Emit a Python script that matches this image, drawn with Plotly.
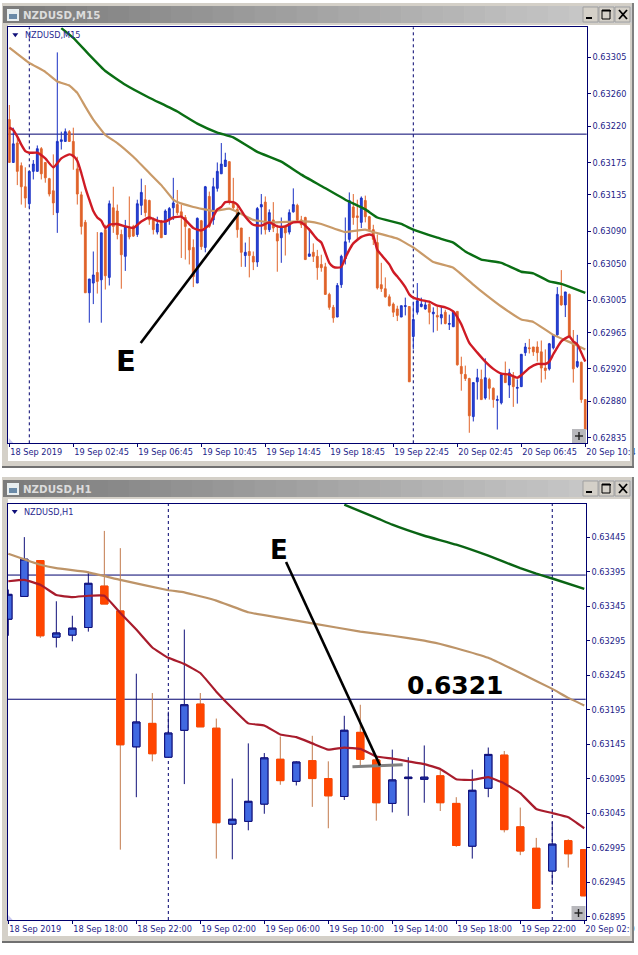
import plotly.graph_objects as go

# ---------- data: prices in points (1 point = 0.00001) ----------
m15_open = [63228,63175,63199,63171,63145,63124,63164,63164,63192,63175,
63155,63140,63113,63201,63201,63213,63201,63167,63135,63101,
63014,63026,63039,63030,63092,63033,63119,63115,63086,63059,
63094,63096,63086,63122,63129,63128,63104,63089,63101,63086,
63104,63119,63123,63114,63107,63093,63070,63026,63103,63070,
63133,63104,63143,63161,63170,63176,63126,63117,63094,63060,
63065,63059,63052,63120,63126,63092,63104,63087,63082,63096,
63089,63114,63122,63104,63107,63059,63064,63059,63049,63046,
63012,62996,62984,63024,63056,63080,63120,63109,63101,63128,
63108,63092,63076,63024,63019,63009,63000,62994,62984,62997,
62997,62960,62990,62997,62994,63000,62988,62986,62983,62990,
62975,62972,62991,62923,62913,62908,62861,62904,62907,62884,
62907,62896,62881,62878,62913,62900,62910,62896,62898,62940,
62946,62947,62947,62941,62921,62920,62946,62962,63010,62999,
63012,62954,62923,62928,62882]
m15_high = [63246,63218,63207,63175,63169,63164,63178,63196,63194,63175,
63156,63185,63311,63213,63217,63215,63218,63182,63139,63104,
63031,63065,63089,63088,63098,63128,63145,63123,63092,63104,
63133,63098,63129,63155,63147,63129,63107,63108,63104,63117,
63120,63156,63141,63123,63110,63094,63080,63107,63104,63146,
63139,63156,63175,63199,63187,63176,63156,63123,63094,63076,
63083,63065,63120,63136,63133,63117,63126,63098,63107,63098,
63117,63143,63124,63109,63108,63094,63075,63067,63061,63051,
63014,62999,63026,63061,63107,63138,63136,63129,63133,63134,
63109,63098,63086,63051,63033,63012,63002,62998,62998,63008,
62997,63003,63026,63008,63004,63003,62996,62997,62997,62993,
62987,62990,62991,62935,62924,62909,62903,62920,62919,62933,
62909,62897,62887,62915,62929,62920,62916,62907,62938,62952,
62957,62947,62954,62955,62944,62952,62963,63021,63042,63015,
63013,62968,62962,62929,62882]
m15_low = [63175,63175,63147,63123,63119,63119,63154,63164,63154,63150,
63133,63110,63088,63191,63201,63201,63166,63123,63086,63014,
62977,63000,63013,62977,63018,63023,63088,63080,63019,63041,
63080,63083,63083,63110,63108,63098,63086,63086,63082,63086,
63098,63104,63110,63057,63055,63049,63021,63026,63067,63064,
63094,63098,63139,63161,63170,63123,63117,63082,63046,63046,
63033,63042,63046,63086,63086,63089,63089,63040,63051,63060,
63086,63113,63102,63094,63055,63059,63052,63030,63040,63012,
62993,62977,62984,63020,63049,63076,63098,63080,63094,63101,
63089,63073,63018,63015,63008,62997,62984,62979,62984,62986,
62904,62944,62987,62996,62993,62975,62965,62967,62975,62975,
62968,62972,62924,62893,62905,62841,62855,62882,62882,62882,
62882,62872,62845,62876,62903,62884,62873,62877,62898,62936,
62939,62936,62929,62903,62907,62918,62944,62961,62998,62984,
62960,62903,62921,62878,62845]
m15_close = [63175,63198,63164,63145,63131,63164,63173,63192,63161,63156,
63136,63125,63201,63203,63213,63201,63182,63136,63096,63014,
63031,63036,63028,63088,63035,63124,63096,63086,63061,63096,
63083,63084,63124,63138,63113,63104,63092,63099,63082,63115,
63118,63125,63113,63108,63096,63067,63034,63106,63071,63145,
63096,63145,63164,63173,63178,63126,63119,63092,63064,63064,
63060,63052,63118,63123,63092,63113,63094,63078,63096,63088,
63113,63123,63104,63098,63055,63062,63059,63045,63045,63012,
62996,62983,63023,63059,63077,63128,63107,63107,63131,63108,
63092,63080,63020,63019,63009,62998,62990,62986,62998,62998,
62904,62981,63004,63000,62999,62990,62990,62984,62987,62976,
62976,62990,62925,62914,62908,62862,62903,62909,62882,62909,
62896,62882,62882,62913,62903,62915,62898,62897,62938,62947,
62945,62941,62940,62921,62918,62951,62962,63012,62999,63015,
62960,62920,62929,62882,62845]

m15_red_bar = [0,1,2,3,4,5,7,9,11,13,15,16,17,18,19,20,21,22,23,24,25,27,29,31,33,35,37,39,41,43,44,46,48,50,51,52,53,54,56,57,59,61,63,65,67,69,71,73,75,77,
78,80,81,82,83,84,85,86,88,90,91,92,93,94,95,96,97,98,99,100,101,103,105,107,109,111,112,113,115,117,119,121,123,125,127,128,130,132,134,135,136,138,140,141,142,143,144]
m15_red = [63218,63215,63207,63197,63189,63187,63187,63180,63169,63180,63185,63183,63177,63162,63144,63129,63115,63107,63103,63094,63098,63099,63096,63094,63102,63107,63103,63102,63107,63108,63104,63094,63091,63098,63108,63117,63120,63126,63126,63123,63108,63098,63097,63101,63096,63096,63101,63101,63092,63080,
63076,63051,63046,63045,63046,63057,63067,63075,63083,63086,63084,63067,63061,63055,63049,63040,63034,63028,63021,63012,63008,63005,63003,62998,62996,62991,62984,62975,62952,62940,62929,62920,62914,62913,62909,62912,62921,62926,62926,62929,62938,62954,62960,62954,62950,62940,62929]
m15_tan_bar = [0,5,9,12,15,17,19,21,24,27,31,35,38,41,42,46,51,55,57,61,65,71,75,78,84,89,91,97,101,106,111,116,119,123,128,131,136,141,144]
m15_tan = [63317,63298,63287,63275,63270,63261,63244,63228,63209,63199,63182,63162,63147,63129,63126,63120,63115,63118,63114,63104,63101,63102,63102,63099,63089,63092,63089,63081,63070,63052,63045,63024,63012,62997,62981,62978,62962,62951,62944]
m15_green_bar = [13,16,20,24,29,35,42,47,52,56,62,68,73,78,84,89,92,98,101,107,111,114,118,123,128,131,135,138,144]
m15_green = [63341,63329,63308,63288,63271,63255,63238,63223,63212,63206,63188,63176,63160,63146,63129,63117,63107,63099,63092,63082,63076,63065,63055,63051,63040,63038,63028,63025,63014]

h1_open = [63326,63359,63411,63300,63303,63314,63374,63338,63141,63175,63126,63165,63203,63168,63029,63033,63058,63123,63091,63121,63095,63069,63162,63122,63059,63095,63094,63099,63059,62997,63081,63129,63025,62994,62961,63005,62992]
h1_high = [63369,63445,63411,63352,63331,63395,63454,63429,63247,63219,63192,63311,63219,63182,63095,63146,63132,63156,63120,63157,63120,63186,63202,63127,63137,63126,63143,63108,63068,63108,63140,63135,63053,63009,63032,63007,62992]
h1_low = [63302,63359,63299,63285,63294,63308,63348,62992,63068,63120,63126,63087,63170,62979,62978,63020,63044,63086,63085,63054,63023,63064,63112,63034,63046,63041,63060,63048,62996,62979,63068,63017,62984,62907,62941,62966,62925]
h1_close = [63362,63413,63302,63306,63313,63378,63348,63144,63177,63131,63161,63202,63170,63031,63036,63062,63125,63092,63119,63095,63070,63165,63123,63060,63093,63097,63097,63060,62998,63078,63130,63021,62990,62907,63000,62986,62925]
h1_red = [63381,63383,63376,63361,63358,63360,63360,63335,63311,63285,63270,63261,63248,63221,63197,63175,63172,63159,63155,63146,63137,63140,63138,63127,63124,63120,63116,63109,63094,63093,63097,63088,63074,63051,63045,63039,63023]
h1_tan_bar = [0,2,3,5,7,10,11,13,15,17,19,22,24,26,27,28,30,32,34,35,36]
h1_tan = [63421,63405,63400,63394,63383,63368,63365,63353,63336,63328,63320,63308,63302,63295,63290,63284,63270,63248,63225,63212,63201]
h1_green_bar = [21,23,24,26,28,30,32,33,34,36]
h1_green = [63492,63473,63463,63447,63434,63418,63400,63392,63385,63370]

m15_yticks = [0.63305,0.63260,0.63220,0.63175,0.63135,0.63090,0.63050,0.63005,0.62965,0.62920,0.62880,0.62835]
h1_yticks = [0.63445,0.63395,0.63345,0.63295,0.63245,0.63195,0.63145,0.63095,0.63045,0.62995,0.62945,0.62895]
m15_xlabels = ["18 Sep 2019","19 Sep 02:45","19 Sep 06:45","19 Sep 10:45","19 Sep 14:45","19 Sep 18:45","19 Sep 22:45","20 Sep 02:45","20 Sep 06:45","20 Sep 10:4"]
h1_xlabels = ["18 Sep 2019","18 Sep 18:00","18 Sep 22:00","19 Sep 02:00","19 Sep 06:00","19 Sep 10:00","19 Sep 14:00","19 Sep 18:00","19 Sep 22:00","20 Sep 02:0"]
m15_level = 0.6321
h1_levels = [0.6339, 0.6321]
m15_day_bars = [5, 101]
h1_day_bars = [10, 34]

W, H = 638, 955
NAVY = "#00006e"
SMALL = "DejaVu Sans Condensed"
TICKFONT = dict(family=SMALL, size=9.1, color="#1c1c88")

def scaled(a):
    return [v / 1e5 for v in a]

def px(x): return x / W
def py(y): return 1 - y / H

shapes = []
annotations = []

def rect(x0, y0, x1, y1, fill, layer="below", line=None):
    shapes.append(dict(type="rect", xref="paper", yref="paper", x0=px(x0), x1=px(x1), y0=py(y0), y1=py(y1),
                       fillcolor=fill, line=dict(width=1 if line else 0, color=line or fill), layer=layer))

def seg(x0, y0, x1, y1, color, width=1, layer="above"):
    shapes.append(dict(type="line", xref="paper", yref="paper", x0=px(x0), x1=px(x1), y0=py(y0), y1=py(y1),
                       line=dict(color=color, width=width), layer=layer))

def text(x, y, s, size, color, family="Liberation Sans", bold=False, anchor="left"):
    annotations.append(dict(xref="paper", yref="paper", x=px(x), y=py(y), text=f"<b>{s}</b>" if bold else s, showarrow=False,
                            xanchor=anchor, yanchor="middle", font=dict(family=family, size=size, color=color),
                            borderpad=0, borderwidth=0))

def window(top, bottom, title, plot_left, plot_top, legend):
    title_top, title_bot = top + 2, top + 19
    rect(2, top - 1, 633, bottom, "#d4d0c8")
    rect(8, title_bot + 2, 630, bottom - 5, "#ffffff")
    n = 30
    for j in range(n):
        t = j / (n - 1)
        v = int(0x7c + (0xcc - 0x7c) * t)
        rect(3 + 629 * j / n, title_top, 3 + 629 * (j + 1) / n + 0.5, title_bot, f"rgb({v},{v},{v})")
    # outer dark edges
    rect(632, top - 1, 634, bottom + 1, "#808080", layer="above")
    rect(630, title_bot, 632, bottom, "#d4d0c8", layer="above")
    rect(2, bottom, 634, bottom + 2, "#707070", layer="above")
    # icon
    rect(7, title_top + 3, 19, title_bot - 2, "#e8eef0")
    rect(9, title_top + 8, 17, title_bot - 4, "#6a8aa8")
    text(23, (title_top + title_bot) / 2 + 0.5, title, 10.3, "#dcdcdc", family="DejaVu Sans", bold=True)
    # caption buttons
    for bx in (583, 599, 615):
        rect(bx, title_top + 1, bx + 15, title_bot - 1, "#d4d0c8", line="#a0a0a0")
    rect(586, title_bot - 6, 592, title_bot - 4, "#000000")
    shapes.append(dict(type="rect", xref="paper", yref="paper", x0=px(602), x1=px(610), y0=py(title_top + 4), y1=py(title_bot - 4),
                       line=dict(color="#000000", width=1), fillcolor="rgba(0,0,0,0)", layer="below"))
    rect(602, title_top + 4, 611, title_top + 5.5, "#000000")
    seg(619, title_top + 4, 627, title_bot - 4, "#000000", 1.8, "below")
    seg(627, title_top + 4, 619, title_bot - 4, "#000000", 1.8, "below")
    # legend caption
    ly = plot_top + 8
    shapes.append(dict(type="path", xref="paper", yref="paper", layer="above",
                       path=f"M{px(plot_left+4)},{py(ly-2)} L{px(plot_left+10)},{py(ly-2)} L{px(plot_left+7)},{py(ly+2)} Z",
                       fillcolor="#10107a", line=dict(width=0)))
    text(plot_left + 16.5, ly, legend, 9.1, "#2a2a90", family=SMALL)

window(4, 466, "NZDUSD,M15", 8.3, 27.3, "NZDUSD,M15")
window(478, 941, "NZDUSD,H1", 7.7, 504, "NZDUSD,H1")

def plus_box(x1, y1):
    rect(x1 - 14, y1 - 14, x1, y1, "#b8b8bc", layer="above")
    seg(x1 - 11, y1 - 7, x1 - 3, y1 - 7, "#202020", 1.4)
    seg(x1 - 7, y1 - 11, x1 - 7, y1 - 3, "#202020", 1.4)

plus_box(586, 443)
plus_box(585.5, 920)

def corner(x0, y1):
    shapes.append(dict(type="path", xref="paper", yref="paper", layer="above",
                       path=f"M{px(x0+0.5)},{py(y1-5)} L{px(x0+5)},{py(y1)} L{px(x0+0.5)},{py(y1)} Z",
                       fillcolor="#c8c8f0", line=dict(width=0)))
corner(8.3, 443)
corner(7.7, 920)

fig = go.Figure()

def line_trace(x, y, color, ax, width=2, smoothing=0.3):
    fig.add_trace(go.Scatter(x=x, y=scaled(y), mode="lines", xaxis=ax[0], yaxis=ax[1], showlegend=False, hoverinfo="skip",
                             line=dict(color=color, width=width, shape="spline", smoothing=smoothing)))

# M15 pane
fig.add_trace(go.Candlestick(x=list(range(len(m15_open))), open=scaled(m15_open), high=scaled(m15_high), low=scaled(m15_low),
                             close=scaled(m15_close), xaxis="x", yaxis="y", showlegend=False, whiskerwidth=0,
                             increasing=dict(line=dict(color="#1a30c4", width=1), fillcolor="#2a48d8"),
                             decreasing=dict(line=dict(color="#e0662c", width=1), fillcolor="#e0602a")))
line_trace(m15_tan_bar, m15_tan, "#c99a68", ("x", "y"), 2.2)
line_trace(m15_green_bar, m15_green, "#0a6e14", ("x", "y"), 2.4)
line_trace(m15_red_bar, m15_red, "#cf1b25", ("x", "y"), 2.4, 0.5)

# H1 pane: wicks, then bodies
h1_x = list(range(len(h1_open)))
fig.add_trace(go.Candlestick(x=h1_x, open=scaled(h1_open), high=scaled(h1_high), low=scaled(h1_low), close=scaled(h1_close),
                             xaxis="x2", yaxis="y2", showlegend=False, whiskerwidth=0,
                             increasing=dict(line=dict(color="#10107a", width=1), fillcolor="#4169e1"),
                             decreasing=dict(line=dict(color="#c27a4c", width=1), fillcolor="#ff4500")))
fig.add_trace(go.Candlestick(x=h1_x, open=scaled(h1_open), close=scaled(h1_close),
                             high=scaled([max(a, b) for a, b in zip(h1_open, h1_close)]),
                             low=scaled([min(a, b) for a, b in zip(h1_open, h1_close)]),
                             xaxis="x2", yaxis="y2", showlegend=False, whiskerwidth=0,
                             increasing=dict(line=dict(color="#10107a", width=1), fillcolor="#4169e1"),
                             decreasing=dict(line=dict(color="#ff4500", width=1), fillcolor="#ff4500")))
line_trace(h1_tan_bar, h1_tan, "#bd9468", ("x2", "y2"), 2.2)
line_trace(h1_green_bar, h1_green, "#0a6414", ("x2", "y2"), 2.4)
line_trace(h1_x, h1_red, "#a81c2c", ("x2", "y2"), 2.2)

# reference lines and drawn trend lines
def hline(v, xr, yr):
    shapes.append(dict(type="line", xref=f"{xr} domain", yref=yr, x0=0, x1=1, y0=v, y1=v, line=dict(color=NAVY, width=1), layer="below"))
def vline(v, xr, yr):
    shapes.append(dict(type="line", xref=xr, yref=f"{yr} domain", x0=v, x1=v, y0=0, y1=1, line=dict(color=NAVY, width=1, dash="3px,3px"), layer="below"))

hline(m15_level, "x", "y")
for v in h1_levels:
    hline(v, "x2", "y2")
for v in m15_day_bars:
    vline(v, "x", "y")
for v in h1_day_bars:
    vline(v, "x2", "y2")

trend_m15 = dict(x0=32.85, y0=0.62952, x1=57.5, y1=0.63113)
trend_h1 = dict(x0=17.36, y0=0.63409, x1=23.23, y1=0.63114)
mark_h1 = dict(x0=21.51, y0=0.63112, x1=24.65, y1=0.63115)
shapes.append(dict(type="line", xref="x2", yref="y2", line=dict(color="#808080", width=3), layer="above", **mark_h1))
shapes.append(dict(type="line", xref="x", yref="y", line=dict(color="#000000", width=2.6), layer="above", **trend_m15))
shapes.append(dict(type="line", xref="x2", yref="y2", line=dict(color="#000000", width=2.6), layer="above", **trend_h1))

text(126, 361, "E", 29, "#000000", family="DejaVu Sans", bold=True, anchor="center")
text(279, 550, "E", 26, "#000000", family="DejaVu Sans", bold=True, anchor="center")
text(455, 685, "0.6321", 25, "#000000", family="DejaVu Sans", bold=True, anchor="center")

def xaxis(dom, rng, tickvals, labels):
    return dict(domain=dom, range=rng, type="linear", tickmode="array", tickvals=tickvals, ticktext=labels,
                ticks="outside", ticklen=3, tickcolor=NAVY, ticklabelposition="outside right", tickfont=TICKFONT,
                showgrid=False, zeroline=False, showline=True, linecolor=NAVY, linewidth=1, mirror=True,
                rangeslider=dict(visible=False), fixedrange=True, tickangle=0, automargin=False)

def yaxis(dom, rng, tickvals, anchor):
    return dict(domain=dom, range=rng, tickmode="array", tickvals=tickvals, ticktext=[f"{v:.5f}" for v in tickvals],
                ticks="outside", ticklen=3, tickcolor=NAVY, tickfont=TICKFONT, side="right", anchor=anchor, automargin=False,
                showgrid=False, zeroline=False, showline=True, linecolor=NAVY, linewidth=1, mirror=True, fixedrange=True)

fig.update_layout(
    width=W, height=H, autosize=False, margin=dict(l=0, r=0, t=0, b=0, pad=0, autoexpand=False), showlegend=False,
    paper_bgcolor="#ffffff", plot_bgcolor="rgba(0,0,0,0)", hovermode=False, boxgap=0.35, boxmode="overlay",
    xaxis=dict(anchor="y", **xaxis([px(8.3), px(586.7)], [-0.25, 144.35], list(range(0, 145, 16)), m15_xlabels)),
    yaxis=yaxis([py(443.3), py(27.3)], [0.62828, 0.63342], m15_yticks, "x"),
    xaxis2=dict(anchor="y2", **xaxis([px(7.7), px(585.7)], [-0.04, 36.09], list(range(0, 37, 4)), h1_xlabels)),
    yaxis2=yaxis([py(920), py(504)], [0.62890, 0.63493], h1_yticks, "x2"),
    shapes=shapes, annotations=annotations,
)

fig.write_html("out.html", config={"displayModeBar": False},
               post_script="document.body.style.margin='0';document.body.style.overflow='hidden';document.documentElement.style.overflow='hidden';")
